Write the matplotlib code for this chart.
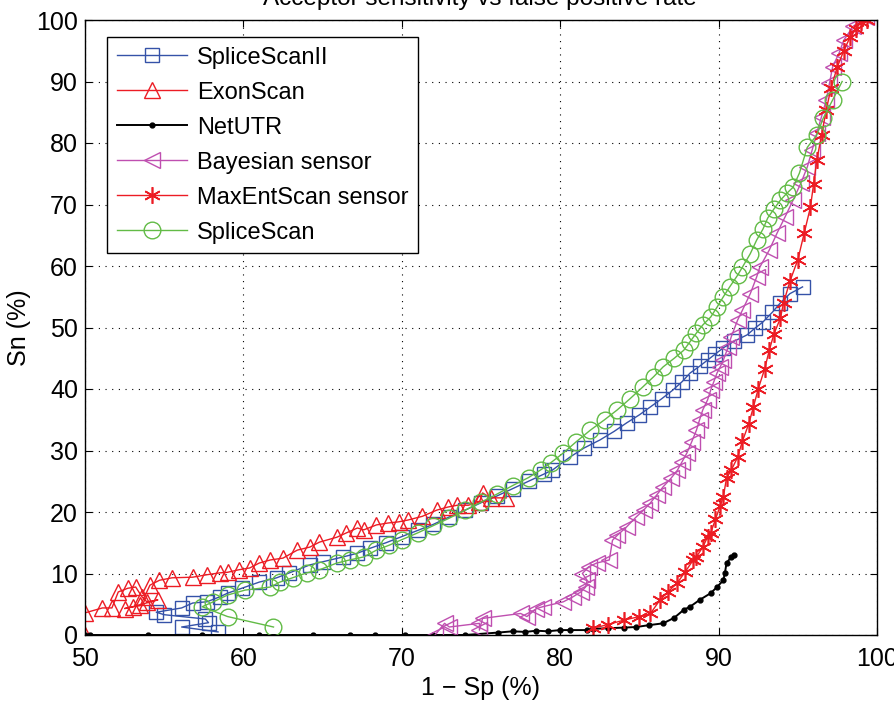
import numpy as np
import matplotlib
matplotlib.use("Agg")
import matplotlib.pyplot as plt

# values
ss2_x = [58.4, 56.1, 57.8, 57.6, 55.0, 54.5, 56.1, 56.8, 57.7, 58.5, 59.0, 59.9, 61.0, 62.1, 62.9,
         64.2, 65.0, 66.3, 67.2, 68.0, 69.0, 70.0, 71.0, 72.0, 73.0, 74.0, 75.0, 76.0, 77.0, 78.0,
         79.0, 79.5, 80.6, 81.5, 82.5, 83.4, 84.2, 85.0, 85.7, 86.4, 87.1, 87.7, 88.2, 88.8, 89.3,
         89.8, 90.3, 91.0, 91.8, 92.3, 92.8, 93.4, 93.9, 94.5, 95.3]
ss2_y = [0.5, 1.3, 2.0, 2.6, 3.3, 3.7, 4.4, 5.2, 5.4, 6.2, 6.8, 7.6, 8.6, 9.3, 10.1,
         11.4, 11.9, 12.7, 13.3, 14.1, 15.0, 16.0, 17.0, 18.0, 19.2, 20.3, 21.5, 22.6, 23.8, 25.0,
         26.2, 26.8, 28.9, 30.4, 31.7, 33.1, 34.5, 35.8, 37.1, 38.4, 39.8, 41.2, 42.6, 43.7, 44.7,
         45.7, 46.7, 47.8, 48.8, 49.9, 50.9, 52.5, 54.0, 55.5, 56.6]

exon_x = [50.0, 50.0, 51.1, 51.7, 52.1, 52.7, 53.2, 53.6, 53.9, 54.6, 53.0, 52.5, 53.5, 54.1, 54.7,
          55.5, 56.8, 57.7, 58.5, 59.0, 59.7, 60.4, 61.0, 61.7, 62.5, 63.4, 64.2, 64.8, 65.9, 66.5,
          67.2, 67.6, 68.4, 69.1, 69.8, 70.4, 71.3, 72.2, 72.9, 73.5, 74.2, 74.9, 75.1, 75.6, 76.6]
exon_y = [0.0, 3.6, 4.4, 4.4, 7.0, 7.6, 7.8, 6.2, 5.4, 5.7, 4.6, 4.3, 4.8, 8.1, 8.9,
          9.3, 9.4, 9.8, 10.1, 10.2, 10.6, 10.9, 11.7, 12.2, 12.5, 13.8, 14.3, 15.1, 15.9, 16.6,
          17.4, 17.1, 17.9, 18.2, 18.4, 18.7, 19.3, 20.3, 20.8, 21.1, 21.1, 21.6, 23.1, 22.3, 22.3]

utr_x = [50.0, 50.3, 54.0, 57.4, 61.0, 64.4, 66.7, 68.3, 70.2, 72.0, 74.0, 76.1, 77.0, 77.8, 78.5,
         79.2, 80.0, 80.6, 81.7, 82.1, 83.0, 84.0, 84.8, 85.6, 86.5, 87.2, 87.8, 88.2, 88.8, 89.5,
         89.9, 90.3, 90.4, 90.5, 90.8, 91.0]
utr_y = [0.0, 0.0, 0.0, 0.0, 0.0, 0.0, 0.0, 0.0, 0.0, 0.0, 0.0, 0.4, 0.6, 0.5, 0.7,
         0.6, 0.8, 0.8, 0.8, 1.0, 1.1, 1.2, 1.3, 1.6, 1.9, 2.8, 4.1, 4.6, 5.7, 6.8,
         7.8, 8.9, 10.1, 11.7, 12.7, 13.0]

bay_x = [72.1, 72.7, 73.0, 74.9, 74.9, 75.1, 77.5, 77.9, 78.5, 78.9, 80.2, 80.8, 81.3, 81.6, 81.7,
         81.4, 81.8, 82.3, 83.1, 83.3, 83.6, 84.2, 84.8, 85.3, 85.7, 86.1, 86.5, 87.0, 87.4, 87.7,
         88.0, 88.3, 88.6, 88.8, 89.0, 89.3, 89.5, 89.7, 89.9, 90.1, 90.3, 90.6, 90.8, 91.2, 91.5,
         92.0, 92.4, 92.6, 93.2, 93.7, 94.2, 94.7, 95.2, 95.6, 95.9, 96.2, 96.5, 96.8, 97.0, 97.2,
         97.6, 97.9, 98.5, 99.3]
bay_y = [0.0, 1.9, 1.3, 1.9, 0.8, 2.7, 3.5, 3.0, 4.3, 4.6, 5.4, 6.2, 7.0, 7.8, 8.9,
         10.0, 11.1, 11.7, 12.2, 15.4, 16.2, 17.6, 19.2, 20.4, 21.5, 22.8, 24.1, 25.5, 26.8, 28.2,
         29.6, 31.4, 33.3, 35.0, 36.6, 38.2, 39.8, 41.2, 42.6, 43.6, 44.7, 46.8, 48.5, 51.2, 52.8,
         55.5, 58.2, 59.8, 62.6, 65.4, 68.0, 70.7, 73.5, 76.1, 78.8, 81.6, 84.3, 87.0, 89.7, 92.4,
         94.6, 96.7, 99.0, 100.5]

mes_x = [82.1, 83.0, 84.0, 85.0, 85.7, 86.3, 86.8, 87.4, 87.9, 88.4, 88.6, 89.0, 89.3, 89.5, 89.8,
         90.1, 90.3, 90.5, 90.8, 91.2, 91.5, 91.9, 92.2, 92.5, 92.9, 93.2, 93.5, 93.9, 94.1, 94.5,
         95.0, 95.4, 95.8, 96.0, 96.2, 96.5, 96.8, 97.1, 97.5, 97.9, 98.3, 98.7, 99.0, 99.4]
mes_y = [1.1, 1.7, 2.4, 3.0, 3.5, 5.7, 7.0, 8.5, 10.3, 12.2, 12.7, 14.3, 15.9, 16.6, 18.8,
         21.0, 22.5, 25.5, 26.8, 28.9, 31.5, 34.3, 37.1, 40.0, 43.2, 46.3, 49.0, 51.5, 54.0, 57.5,
         61.0, 65.3, 69.6, 73.4, 77.2, 81.3, 85.4, 89.0, 92.4, 95.0, 97.2, 98.6, 99.7, 100.0]

ss_x = [61.9, 59.0, 57.4, 58.1, 59.0, 60.1, 61.7, 62.3, 63.1, 64.0, 64.8, 65.9, 66.7, 67.6, 68.4,
        69.2, 70.0, 71.0, 72.0, 73.0, 74.0, 75.0, 76.0, 77.0, 78.0, 78.8, 79.4, 80.2, 81.0, 81.9,
        82.8, 83.6, 84.4, 85.2, 85.9, 86.5, 87.2, 87.8, 88.2, 88.6, 89.0, 89.5, 89.9, 90.3, 90.7,
        91.2, 91.5, 92.0, 92.4, 92.8, 93.1, 93.5, 93.9, 94.3, 94.7, 95.1, 95.6, 96.2, 96.6, 97.2,
        97.8]
ss_y = [1.3, 3.0, 4.6, 5.4, 6.5, 7.3, 7.8, 8.6, 9.3, 10.1, 10.6, 11.7, 12.2, 12.7, 13.8,
        14.6, 15.5, 16.6, 17.8, 19.0, 20.3, 21.6, 22.9, 24.3, 25.6, 26.9, 28.0, 29.6, 31.4, 33.3,
        35.0, 36.6, 38.4, 40.3, 42.0, 43.6, 45.0, 46.3, 47.7, 49.1, 50.4, 51.7, 53.3, 55.0, 56.6,
        58.5, 59.8, 62.0, 64.2, 66.0, 67.8, 69.3, 70.7, 71.8, 72.8, 75.1, 79.3, 81.3, 84.0, 87.0,
        90.0]

plt.rcParams['font.family'] = ['Liberation Sans', 'DejaVu Sans']
fs = 18

fig = plt.figure(figsize=(8.95, 7.01), dpi=100)
ax = fig.add_axes([85 / 895, 1 - 635 / 701, 792 / 895, 615 / 701])

blue = '#3552a8'
red = '#ec1c24'
mag = '#bf4fb0'
green = '#62bb46'
asterisk = (6, 2, 0)

ax.plot(ss2_x, ss2_y, color=blue, marker='s', mfc='none', ms=10, lw=1, label='SpliceScanII')
ax.plot(exon_x, exon_y, color=red, marker='^', mfc='none', ms=12, lw=1, label='ExonScan')
ax.plot(utr_x, utr_y, color='black', marker='.', ms=7, lw=1.4, label='NetUTR')
ax.plot(bay_x, bay_y, color=mag, marker='<', mfc='none', ms=12, lw=1, label='Bayesian sensor')
ax.plot(mes_x, mes_y, color=red, marker=asterisk, ms=12, mew=1.2, lw=1, label='MaxEntScan sensor')
ax.plot(ss_x, ss_y, color=green, marker='o', mfc='none', ms=12, lw=1, label='SpliceScan')

ax.set_xlim(50, 100)
ax.set_ylim(0, 100)
ax.set_xticks(np.arange(50, 101, 10))
ax.set_yticks(np.arange(0, 101, 10))
ax.tick_params(direction='in', top=True, right=True, labelsize=fs, length=5)
ax.tick_params(axis='x', pad=9)
ax.tick_params(axis='y', pad=5)
ax.grid(True, color='black', linestyle=(0, (1, 5)), linewidth=0.8)
for s in ax.spines.values():
    s.set_linewidth(1)

ax.set_xlabel('1 \u2212 Sp (%)', fontsize=fs, labelpad=3)
ax.set_ylabel('Sn (%)', fontsize=fs, labelpad=4)
fig.text(0.536, 1 - 5 / 701, 'Acceptor sensitivity vs false positive rate',
         ha='center', va='baseline', fontsize=17.5)

leg = ax.legend(loc='upper left', bbox_to_anchor=(0.028, 0.972), borderaxespad=0,
                fontsize=17, fancybox=False, framealpha=1, edgecolor='black',
                handlelength=3.0, handletextpad=0.4, labelspacing=0.55, borderpad=0.4)
leg.get_frame().set_linewidth(1)

fig.savefig('out.png', dpi=100)
